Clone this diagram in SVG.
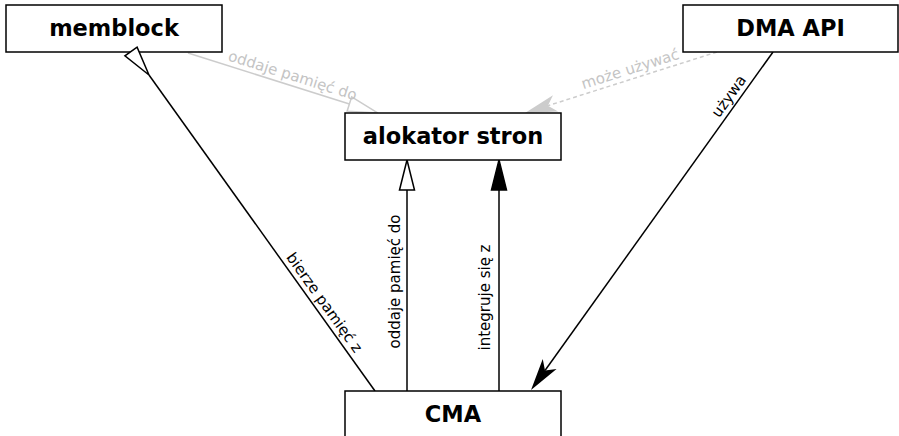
<svg xmlns="http://www.w3.org/2000/svg" width="899" height="436" viewBox="0 0 899 436">
  <style>
    .box { fill: #ffffff; stroke: #000000; stroke-width: 1.5; }
    .title { font-family: "DejaVu Sans", sans-serif; font-weight: bold; font-size: 22.5px; fill: #000000; text-anchor: middle; }
    .lbl { font-family: "DejaVu Sans", sans-serif; font-size: 15px; fill: #000000; text-anchor: middle; }
    .lbl-muted { font-family: "DejaVu Sans", sans-serif; font-size: 15px; fill: #c4c4c4; text-anchor: middle; }
    .edge { fill: none; stroke: #000000; stroke-width: 1.5; }
    .edge-muted { fill: none; stroke: #cccccc; stroke-width: 1.5; }
    .dashed { stroke-dasharray: 4 3; }
  </style>
  <defs>
    <!-- hollow triangle, base at the line end, apex ahead -->
    <marker id="tri-open" markerUnits="userSpaceOnUse" markerWidth="32" markerHeight="18" refX="0" refY="0" orient="auto" overflow="visible">
      <path d="M0,-7.5 L30,0 L0,7.5 Z" fill="#ffffff" stroke="#000000" stroke-width="1.5"/>
    </marker>
    <!-- hollow triangle in light grey -->
    <marker id="tri-open-muted" markerUnits="userSpaceOnUse" markerWidth="32" markerHeight="18" refX="0" refY="0" orient="auto" overflow="visible">
      <path d="M0,-7.5 L30,0 L0,7.5 Z" fill="none" stroke="#cccccc" stroke-width="1.5"/>
    </marker>
    <!-- filled triangle -->
    <marker id="tri-solid" markerUnits="userSpaceOnUse" markerWidth="32" markerHeight="18" refX="0" refY="0" orient="auto" overflow="visible">
      <path d="M0,-7.5 L30,0 L0,7.5 Z" fill="#000000" stroke="#000000" stroke-width="1.5"/>
    </marker>
    <!-- notched arrowheads, attached at the notch -->
    <marker id="stealth" markerUnits="userSpaceOnUse" markerWidth="34" markerHeight="20" refX="0" refY="0" orient="auto" overflow="visible">
      <path d="M24,0 L-8,-8.5 L0,0 L-8,8.5 Z" fill="#000000"/>
    </marker>
    <marker id="stealth-muted" markerUnits="userSpaceOnUse" markerWidth="34" markerHeight="20" refX="0" refY="0" orient="auto" overflow="visible">
      <path d="M24,0 L-8,-8.5 L0,0 L-8,8.5 Z" fill="#cccccc"/>
    </marker>
  </defs>

  <!-- connectors -->
  <g id="connectors">
    <!-- memblock -> alokator stron -->
    <line class="edge-muted" x1="188" y1="53" x2="349.4" y2="104" marker-end="url(#tri-open-muted)"/>
    <text class="lbl-muted" transform="translate(291.2,80.3) rotate(17.5)">oddaje pamięć do</text>

    <!-- DMA API -> alokator stron -->
    <line class="edge-muted dashed" x1="717" y1="52" x2="547.9" y2="105.7" marker-end="url(#stealth-muted)"/>
    <text class="lbl-muted" transform="translate(631.8,73.8) rotate(-17.6)">może używać</text>

    <!-- DMA API -> CMA -->
    <line class="edge" x1="773" y1="52" x2="545" y2="370.5" marker-end="url(#stealth)"/>
    <text class="lbl" transform="translate(733,99.2) rotate(-54.4)">używa</text>

    <!-- CMA -> memblock (its head is drawn after the memblock node) -->
    <line class="edge" x1="375" y1="391" x2="149" y2="75"/>
    <text class="lbl" transform="translate(320.2,305.5) rotate(54.4)">bierze pamięć z</text>

    <!-- CMA -> alokator stron -->
    <line class="edge" x1="407" y1="391" x2="407" y2="190" marker-end="url(#tri-open)"/>
    <text class="lbl" transform="translate(400,281.5) rotate(-90)">oddaje pamięć do</text>

    <line class="edge" x1="499" y1="391" x2="499" y2="190" marker-end="url(#tri-solid)"/>
    <text class="lbl" transform="translate(490,297.5) rotate(-90)">integruje się z</text>
  </g>

  <!-- nodes -->
  <g id="memblock">
    <rect class="box" x="6" y="5" width="216" height="47"/>
    <text class="title" x="114" y="36">memblock</text>
  </g>
  <g id="dma-api">
    <rect class="box" x="683" y="5" width="215" height="47"/>
    <text class="title" x="790.5" y="36">DMA API</text>
  </g>
  <g id="alokator-stron">
    <rect class="box" x="345" y="113" width="216" height="47"/>
    <text class="title" x="453" y="144">alokator stron</text>
  </g>
  <g id="cma">
    <rect class="box" x="345" y="391" width="216" height="47"/>
    <text class="title" x="453" y="422">CMA</text>
  </g>

  <!-- open triangle of the CMA -> memblock edge, over the memblock border -->
  <path d="M149,75 L137.1,47.1 L124.9,55.9 Z" fill="#ffffff" stroke="#000000" stroke-width="1.5"/>
</svg>
